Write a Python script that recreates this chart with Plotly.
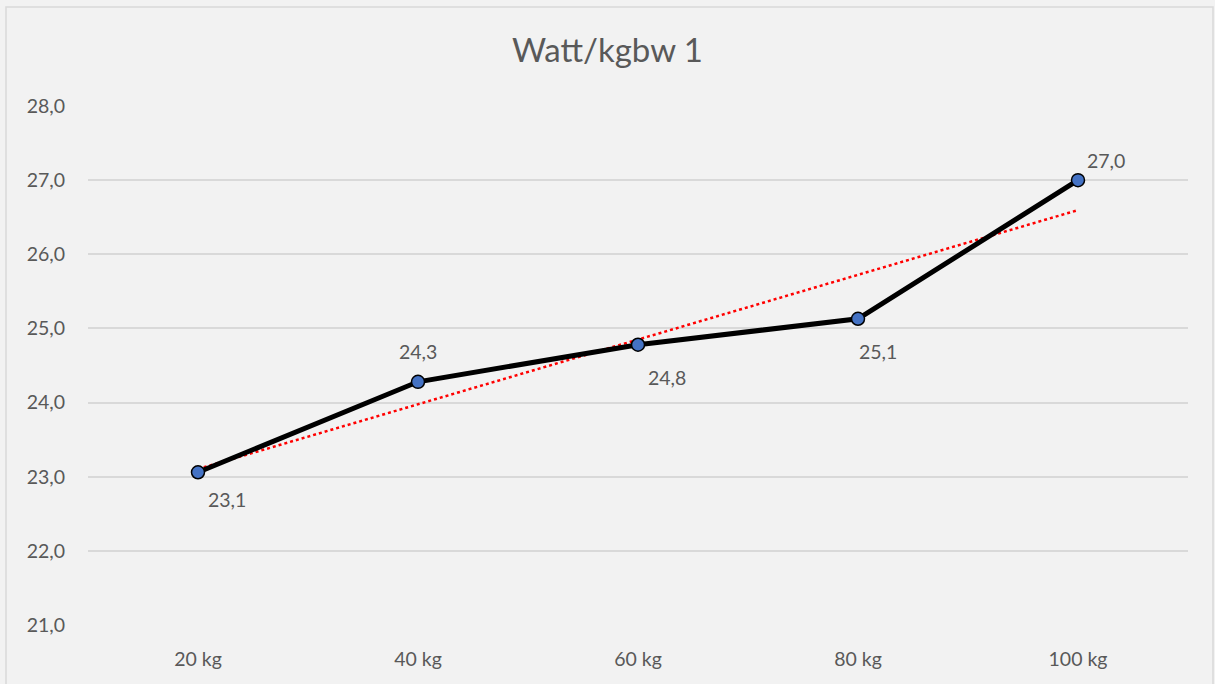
import numpy as np
import plotly.graph_objects as go

categories = ["20 kg", "40 kg", "60 kg", "80 kg", "100 kg"]
values = [23.06, 24.28, 24.78, 25.13, 27.0]
label_dx = [29, 0, 29, 20, 28]
label_dy = [-27, 30, -33, -33, 20]

title = "Watt/kgbw 1"
font_family = "Lato, 'Open Sans', Arial, sans-serif"
grey = "#595959"

xi = np.arange(len(values))
slope, intercept = np.polyfit(xi, values, 1)
trend = slope * xi + intercept

fig = go.Figure()
fig.add_trace(go.Scatter(
    x=categories, y=trend, mode="lines",
    line=dict(color="#ff0000", width=2.5, dash="dot"),
    hoverinfo="skip", showlegend=False,
))
fig.add_trace(go.Scatter(
    x=categories, y=values, mode="lines+markers",
    line=dict(color="#000000", width=5),
    marker=dict(size=13, color="#4472C4", line=dict(color="#000000", width=1.5)),
    showlegend=False,
))

for c, v, dx, dy in zip(categories, values, label_dx, label_dy):
    fig.add_annotation(
        x=c, y=v, text=f"{v:.1f}".replace(".", ","), showarrow=False,
        xshift=dx, yshift=dy, font=dict(family=font_family, size=19.5, color=grey),
    )

W, H = 1215, 684
ml, mr, mt, mb = 88, 27, 106, 59
pw, ph = W - ml - mr, H - mt - mb
fig.add_shape(
    type="rect", xref="paper", yref="paper",
    x0=(6 - ml) / pw, x1=(1213 - ml) / pw,
    y0=(H - mb - 700) / ph, y1=(H - mb - 7) / ph,
    line=dict(color="#d9d9d9", width=1.5), fillcolor="rgba(0,0,0,0)", layer="below",
)

fig.update_layout(
    width=W, height=H,
    margin=dict(l=ml, r=mr, t=mt, b=mb),
    paper_bgcolor="#f2f2f2", plot_bgcolor="#f2f2f2",
    separators=",.",
    title=dict(text=title, x=0.5, xanchor="center", y=1 - 50 / H, yanchor="middle",
               font=dict(family=font_family, size=33, color=grey)),
    font=dict(family=font_family, size=19.5, color=grey),
    xaxis=dict(showgrid=False, showline=False, zeroline=False, ticks="",
               range=[-0.5, len(categories) - 0.5], ticklabelstandoff=20,
               tickfont=dict(size=19.5, color=grey)),
    yaxis=dict(range=[21, 28], dtick=1, tickformat=".1f", showgrid=True,
               gridcolor="#d9d9d9", gridwidth=1.5, zeroline=False, showline=False,
               ticks="", ticklabelstandoff=22, tickfont=dict(size=19.5, color=grey)),
)

fig.write_html("out.html")
